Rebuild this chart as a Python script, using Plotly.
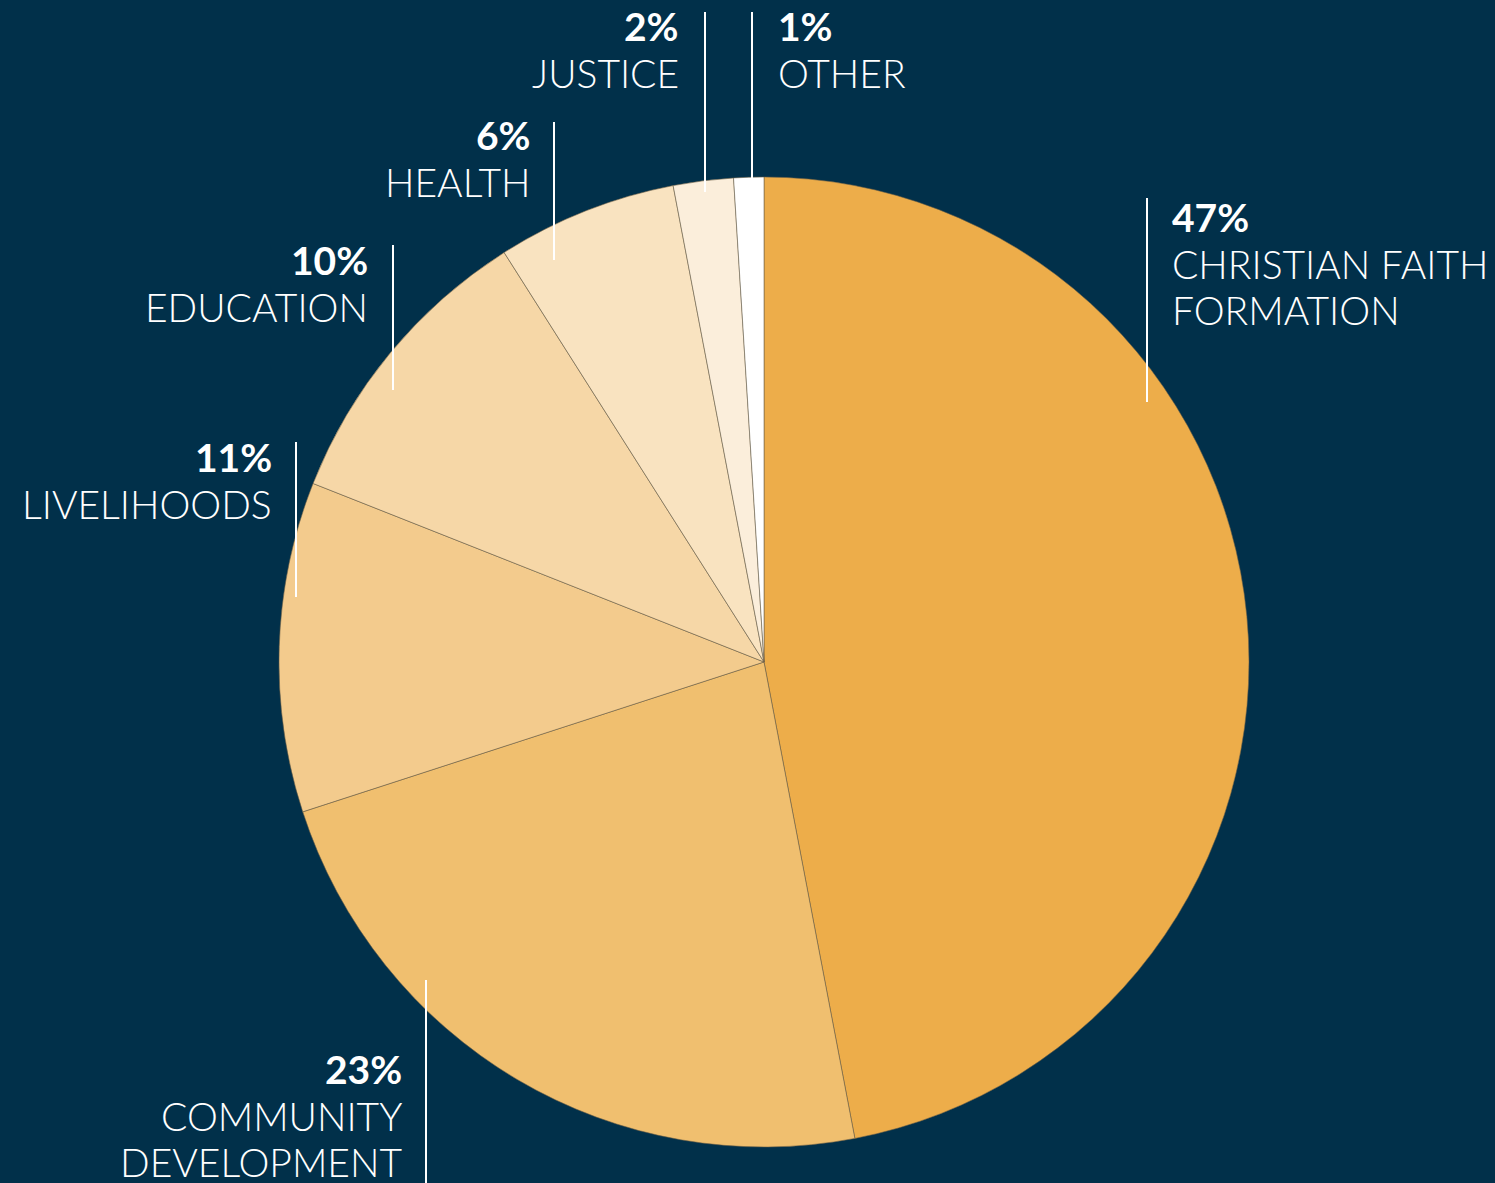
import plotly.graph_objects as go

categories = ["CHRISTIAN FAITH<br>FORMATION", "COMMUNITY<br>DEVELOPMENT", "LIVELIHOODS",
              "EDUCATION", "HEALTH", "JUSTICE", "OTHER"]
values = [47, 23, 11, 10, 6, 2, 1]
colors = ["#EDAD4A", "#F0BF6F", "#F3CB8D", "#F6D7A7", "#F9E3C0", "#FBEEDB", "#FFFFFF"]

W, H = 1495, 1183
BG = "#01304A"

# label layout: (text x px, first-baseline y px, anchor, line x px, line y0, line y1)
label_pos = [
    (1170, 232, "left", 1147, 198, 402),
    (404, 1084, "right", 426, 980, 1183),
    (274, 472, "right", 296, 442, 597),
    (370, 275, "right", 393, 245, 390),
    (533, 150, "right", 554, 122, 260),
    (681, 41, "right", 705, 12, 192),
    (776, 41, "left", 752, 12, 178),
]

cx, cy, r = 764, 662, 485

fig = go.Figure(go.Pie(
    labels=categories,
    values=values,
    marker=dict(colors=colors, line=dict(color="rgba(110,95,70,0.7)", width=0.8)),
    sort=False,
    direction="clockwise",
    rotation=0,
    textinfo="none",
    hoverinfo="skip",
    showlegend=False,
    domain=dict(x=[(cx - r) / W, (cx + r) / W], y=[(H - cy - r) / H, (H - cy + r) / H]),
))

FS = 39
LH = 46.5
for cat, val, (tx, by, anc, lx, ly0, ly1) in zip(categories, values, label_pos):
    lines = [f"<b>{val}%</b>"] + cat.split("<br>")
    for i, ln in enumerate(lines):
        base = by + i * LH
        fig.add_annotation(
            x=tx / W, y=1 - (base - 0.38 * FS) / H, xref="paper", yref="paper",
            text=ln, showarrow=False, xanchor=anc, yanchor="middle",
            font=dict(family="Lato", size=FS, color="white", weight=300),
        )
    fig.add_shape(type="line", xref="paper", yref="paper",
                  x0=lx / W, x1=lx / W, y0=1 - ly0 / H, y1=1 - ly1 / H,
                  line=dict(color="white", width=2))

fig.update_layout(
    width=W, height=H,
    margin=dict(l=0, r=0, t=0, b=0),
    paper_bgcolor=BG, plot_bgcolor=BG,
)

fig.write_html("out.html",
               config={"displayModeBar": False},
               post_script="document.body.style.margin='0';document.body.style.overflow='hidden';")
